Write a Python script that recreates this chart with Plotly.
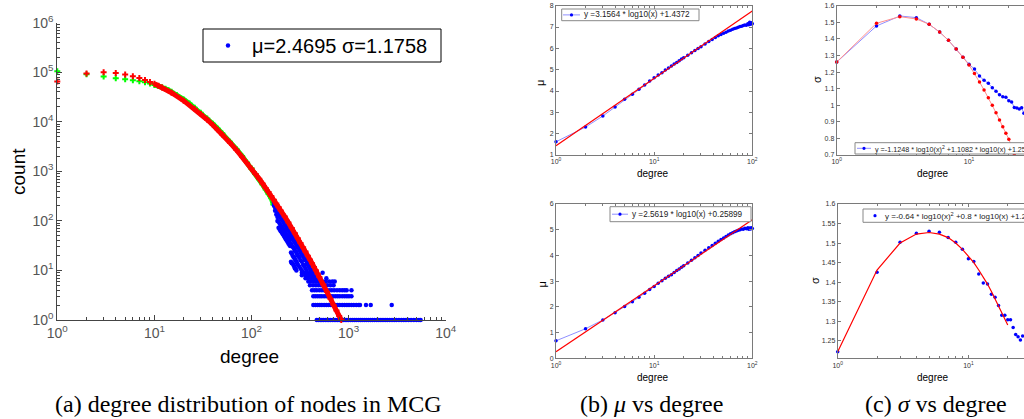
import plotly.graph_objects as go

W, H = 1024, 419


def fx(x):
    return x / W


def fy(y):
    return 1 - y / H


# ---------------- (a) degree distribution of nodes ----------------
fit_mu, fit_sigma = 2.4695, 1.1758

# log-normal fit (red)
fit_deg = [1, 2, 3, 4, 5, 6, 7, 8, 9, 10, 11, 12, 15, 20, 26, 30, 35, 40, 45, 50,
           60, 70, 80, 90, 100, 110, 120, 130, 140, 150, 160, 170, 180, 190, 200,
           220, 240, 260, 280, 300, 320, 340, 360, 380, 400, 420, 440, 460, 480,
           500, 550, 600, 650, 700, 750, 800, 840]
fit_cnt = [65060, 94290, 99740, 96560, 90350, 83350, 76380, 69850, 63870, 58450,
           53570, 49200, 38560, 26710, 18130, 14380, 11010, 8620, 6870, 5560,
           3790, 2690, 1970, 1480, 1134, 887, 705, 568, 463, 381, 317, 266, 224,
           191, 163, 122, 92.6, 71.7, 56.3, 44.8, 36.0, 29.3, 24.1, 19.9, 16.6,
           14.0, 11.8, 10.1, 8.6, 7.4, 5.2, 3.7, 2.7, 2.0, 1.55, 1.2, 1.0]

# observed counts, low-degree part (green)
head_deg = [1, 2, 3, 4, 5, 6, 7, 8, 9, 10, 11, 12, 13, 14, 15, 17, 20, 23, 26, 30,
            35, 40, 45, 50, 60, 70, 80, 90, 100, 110, 120, 130, 140, 150, 160, 168]
head_cnt = [105000, 91000, 82000, 76000, 72000, 69000, 66000, 63000, 59000, 55500,
            52800, 49800, 46500, 43200, 40300, 34800, 28300, 23300, 19200, 15200,
            11650, 9120, 7250, 5870, 3980, 2810, 2040, 1510, 1150, 880, 690, 540,
            430, 350, 285, 215]

# observed counts, high-degree tail (blue): main band
band_deg = [170, 170, 175, 175, 175, 180, 180, 180, 185, 185, 185, 185,
            190, 190, 190, 190, 195, 195, 195, 195, 200, 200, 200, 200,
            205, 205, 205, 205, 210, 210, 210, 210, 215, 215, 215, 215,
            220, 220, 220, 220, 225, 225, 225, 225, 230, 230, 230, 230,
            235, 235, 235, 235, 240, 240, 240, 240, 245, 245, 245, 245,
            250, 250, 250, 250, 255, 255, 255, 255, 255, 260, 260, 260, 260, 260,
            265, 265, 265, 265, 265, 270, 270, 270, 270, 270, 275, 275, 275, 275, 275,
            280, 280, 280, 280, 280, 285, 285, 285, 285, 285, 290, 290, 290, 290, 290,
            295, 295, 295, 295, 300, 300, 300, 300, 310, 310, 310, 310,
            320, 320, 320, 320, 330, 330, 330, 330, 340, 340, 340, 350, 350, 350,
            360, 360, 360, 370, 370, 370, 380, 380, 390, 390, 400, 400, 410, 410,
            420, 440]
band_cnt = [239, 205, 220, 185, 160, 202, 165, 135, 186, 150, 120, 100,
            172, 134, 96, 73, 159, 124, 89, 67, 147, 114, 82, 62,
            137, 106, 76, 58, 127, 99, 71, 54, 118, 92, 66, 50,
            110, 85, 61, 46, 103, 80, 57, 43, 95, 74, 53, 40,
            89, 69, 50, 38, 84, 65, 47, 35, 78, 61, 44, 33,
            73, 57, 41, 31, 68, 49, 34, 23, 15, 65, 47, 32, 22, 14,
            61, 44, 30, 20, 14, 57, 41, 29, 19, 13, 54, 39, 27, 18, 12,
            51, 37, 25, 17, 11, 48, 35, 24, 16, 11, 45, 33, 23, 15, 10,
            43, 31, 21, 14, 40, 29, 20, 13, 36, 26, 18, 12,
            32, 23, 16, 11, 29, 21, 15, 10, 26, 19, 13, 24, 17, 12,
            22, 16, 11, 20, 14, 10, 18, 13, 16, 12, 15, 11, 14, 10,
            13, 11]

# observed counts, high-degree tail (blue): integer-count rows
row9_deg = [330, 350, 370, 400, 430, 470, 540]
row8_deg = [330, 360, 390, 420, 450, 490]
row7_deg = [360, 380, 410, 440, 470, 510, 590]
row6_deg = [385, 410, 440, 470, 500, 540, 580, 630, 680, 720]
row5_deg = [400, 430, 460, 490, 520, 560, 600, 650, 700]
row4_deg = [420, 445, 470, 500, 530, 560, 590, 630, 670, 710, 760, 810, 860,
            910, 955, 1070]
row3_deg = [433, 455, 480, 505, 530, 560, 590, 620, 655, 690, 730, 770, 810,
            860, 910, 960, 1010, 1070]
row2_deg = [433, 455, 480, 505, 530, 560, 590, 620, 655, 690, 730, 770, 810,
            860, 910, 960, 1010, 1070, 1130, 1200, 1270, 1310, 1510, 1690, 2780]
row1_deg = [470, 490, 510, 530, 550, 575, 600, 625, 650, 680, 710, 740, 770, 800,
            840, 880, 920, 960, 1000, 1050, 1100, 1150, 1200, 1260, 1320, 1380,
            1450, 1520, 1600, 1680, 1760, 1850, 1950, 2050, 2150, 2260, 2380,
            2500, 2650, 2800, 2950, 3100, 3300, 3500, 3700, 3900, 4150, 4400,
            4700, 5000, 5300, 5520]

tail_deg = list(band_deg)
tail_cnt = list(band_cnt)
for c, row in [(9, row9_deg), (8, row8_deg), (7, row7_deg), (6, row6_deg),
               (5, row5_deg), (4, row4_deg), (3, row3_deg), (2, row2_deg),
               (1, row1_deg)]:
    tail_deg += row
    tail_cnt += [c] * len(row)

# ---------------- (b) mu vs degree ----------------
mu_deg = list(range(1, 21)) + [22, 24, 26, 28, 30, 33, 36, 39, 42, 45, 48, 51, 54,
                               57, 60, 63, 66, 69, 72, 75, 78, 81, 84, 87, 90, 92,
                               94, 96, 98, 100]
mu_top = [1.62, 2.31, 2.83, 3.25, 3.61, 3.85, 4.08, 4.28, 4.47, 4.62, 4.75, 4.86,
          4.98, 5.08, 5.17, 5.27, 5.34, 5.42, 5.50, 5.56,
          5.68, 5.79, 5.90, 5.99, 6.08, 6.21, 6.32, 6.42, 6.51, 6.59, 6.65, 6.71,
          6.76, 6.81, 6.85, 6.89, 6.93, 6.96, 6.99, 7.02, 7.04, 7.07, 7.10, 7.08,
          7.15, 7.11, 7.22, 7.13, 7.20, 7.15]
mu_bottom = [0.68, 1.15, 1.49, 1.77, 2.01, 2.20, 2.37, 2.53, 2.68, 2.79, 2.92, 3.02,
             3.11, 3.19, 3.25, 3.34, 3.41, 3.47, 3.54, 3.60,
             3.71, 3.81, 3.91, 4.00, 4.09, 4.20, 4.30, 4.39, 4.47, 4.55, 4.62, 4.68,
             4.74, 4.79, 4.84, 4.88, 4.92, 4.95, 4.98, 5.00, 5.03, 5.02, 5.06, 5.04,
             5.08, 5.02, 5.07, 5.03, 5.08, 5.05]
mu_fit_top = [3.1564, 1.4372]        # slope, intercept in log10(x)
mu_fit_bottom = [2.5619, 0.25899]
fit_x_ends = [1, 100]
fit_log_ends = [0, 2]                # log10 of fit_x_ends

# ---------------- (c) sigma vs degree ----------------
sig_deg_top = list(range(1, 27))
sig_top = [1.26, 1.478, 1.538, 1.528, 1.488, 1.441, 1.391, 1.339, 1.289, 1.247,
           1.218, 1.176, 1.150, 1.132, 1.106, 1.084, 1.063, 1.051, 1.048, 1.027,
           1.019, 0.987, 0.983, 0.977, 0.985, 0.951]
sig_fit_deg_top = list(range(1, 23))
sig_fit_top = [1.26, 1.494, 1.534, 1.520, 1.488, 1.441, 1.391, 1.339, 1.289, 1.243,
               1.192, 1.140, 1.092, 1.045, 1.000, 0.955, 0.911, 0.871, 0.831, 0.795,
               0.750, 0.706]
sig_deg_bottom = list(range(1, 28))
sig_bottom = [1.222, 1.425, 1.502, 1.525, 1.530, 1.528, 1.514, 1.502, 1.484, 1.460,
              1.453, 1.421, 1.398, 1.395, 1.369, 1.361, 1.340, 1.315, 1.315, 1.304,
              1.304, 1.284, 1.266, 1.260, 1.252, 1.262, 1.241]
sig_fit_deg_bottom = list(range(1, 21))
sig_fit_bottom = [1.222, 1.431, 1.500, 1.523, 1.527, 1.523, 1.514, 1.500, 1.484,
                  1.467, 1.450, 1.431, 1.414, 1.395, 1.376, 1.357, 1.339, 1.320,
                  1.307, 1.290]
sig_fit_text_top = "y =-1.1248 * log10(x)<sup>2</sup> +1.1082 * log10(x) +1.2558"
sig_fit_text_bottom = "y =-0.64 * log10(x)<sup>2</sup> +0.8 * log10(x) +1.22"

# ---------------- figure ----------------
BLUE = "#0000ff"
RED = "#ff0000"
GREEN = "#00ff00"
LIGHT_BLUE = "#8f8fff"
LIGHT_RED = "#ff8f8f"
SANS = "Liberation Sans, Arial, sans-serif"
SERIF = "Liberation Serif, Times New Roman, serif"

fig = go.Figure()

# (a)
fig.add_trace(go.Scatter(x=head_deg, y=head_cnt, mode="markers",
                         marker=dict(symbol="cross", size=5, color=GREEN),
                         xaxis="x", yaxis="y", cliponaxis=False))
fig.add_trace(go.Scatter(x=[d for d in head_deg if d >= 10],
                         y=[c for d, c in zip(head_deg, head_cnt) if d >= 10],
                         mode="lines", line=dict(color=GREEN, width=5),
                         xaxis="x", yaxis="y"))
fig.add_trace(go.Scatter(x=tail_deg, y=tail_cnt, mode="markers",
                         marker=dict(symbol="circle", size=4.5, color=BLUE),
                         xaxis="x", yaxis="y", cliponaxis=False))
fig.add_trace(go.Scatter(x=fit_deg, y=fit_cnt, mode="markers",
                         marker=dict(symbol="cross", size=5, color=RED),
                         xaxis="x", yaxis="y", cliponaxis=False))
fig.add_trace(go.Scatter(x=[d for d in fit_deg if d >= 10],
                         y=[c for d, c in zip(fit_deg, fit_cnt) if d >= 10],
                         mode="lines", line=dict(color=RED, width=5),
                         xaxis="x", yaxis="y"))

# (b) top and bottom
for xa, ya, vals, coef in [("x2", "y2", mu_top, mu_fit_top),
                           ("x3", "y3", mu_bottom, mu_fit_bottom)]:
    fig.add_trace(go.Scatter(x=mu_deg, y=vals, mode="lines+markers",
                             line=dict(color=LIGHT_BLUE, width=1),
                             marker=dict(size=3.5, color=BLUE),
                             xaxis=xa, yaxis=ya, cliponaxis=False))
    fig.add_trace(go.Scatter(x=fit_x_ends,
                             y=[coef[0] * lx + coef[1] for lx in fit_log_ends],
                             mode="lines", line=dict(color=RED, width=1.2),
                             xaxis=xa, yaxis=ya, cliponaxis=False))

# (c) top
fig.add_trace(go.Scatter(x=sig_deg_top, y=sig_top, mode="lines+markers",
                         line=dict(color=LIGHT_BLUE, width=1),
                         marker=dict(size=3.5, color=BLUE),
                         xaxis="x4", yaxis="y4", cliponaxis=False))
fig.add_trace(go.Scatter(x=sig_fit_deg_top, y=sig_fit_top, mode="lines+markers",
                         line=dict(color=LIGHT_RED, width=1),
                         marker=dict(size=3.5, color=RED),
                         xaxis="x4", yaxis="y4", cliponaxis=False))
# (c) bottom
fig.add_trace(go.Scatter(x=sig_deg_bottom, y=sig_bottom, mode="markers",
                         marker=dict(size=3.5, color=BLUE),
                         xaxis="x5", yaxis="y5", cliponaxis=False))
fig.add_trace(go.Scatter(x=sig_fit_deg_bottom, y=sig_fit_bottom, mode="lines",
                         line=dict(color=RED, width=1.2),
                         xaxis="x5", yaxis="y5", cliponaxis=False))


def pow10_labels(n):
    return [10 ** k for k in range(n + 1)], ["10<sup>%d</sup>" % k for k in range(n + 1)]


def minor_log(n):
    return [m * 10 ** k for k in range(n) for m in range(2, 10)]


def log_axis(dom, n, anchor, size, col, tl, ml, rng=None, mirror=False, lw=1):
    vals, text = pow10_labels(n)
    return dict(domain=dom, type="log", range=rng if rng else [0, n], anchor=anchor,
                tickmode="array", tickvals=vals, ticktext=text,
                ticks="inside", ticklen=tl, tickwidth=1, tickcolor=col,
                showline=True, linecolor=col, linewidth=lw, mirror=mirror,
                showgrid=False, zeroline=False,
                tickfont=dict(family=SANS, size=size, color="#555" if size > 10 else "#333"),
                minor=dict(tickmode="array", tickvals=minor_log(n), ticks="inside",
                           ticklen=ml, tickcolor=col, showgrid=False))


def lin_axis(dom, rng, vals, text, anchor, col, mirror):
    return dict(domain=dom, range=rng, anchor=anchor, tickmode="array",
                tickvals=vals, ticktext=text, ticks="inside", ticklen=3,
                tickwidth=1, tickcolor=col, showline=True, linecolor=col,
                linewidth=1, mirror=mirror, showgrid=False, zeroline=False,
                tickfont=dict(family=SANS, size=7, color="#333"))


AX_A = "#444"
AX_S = "#7a7a7a"
top_dom = [fy(155), fy(5.7)]
bot_dom = [fy(358.3), fy(204)]

layout = dict(
    width=W, height=H, margin=dict(l=0, r=0, t=0, b=0, autoexpand=False),
    paper_bgcolor="white", plot_bgcolor="white", showlegend=False,
    font=dict(family=SANS),
    xaxis=log_axis([fx(57.3), fx(445.7)], 4, "y", 14, AX_A, 5, 3),
    yaxis=log_axis([fy(320), fy(22.7)], 6, "x", 14, AX_A, 5, 3),
    xaxis2=log_axis([fx(556), fx(752.3)], 2, "y2", 7, AX_S, 3, 2, mirror="ticks"),
    yaxis2=lin_axis(top_dom, [1, 8], list(range(1, 9)), [str(v) for v in range(1, 9)],
                    "x2", AX_S, "ticks"),
    xaxis3=log_axis([fx(556), fx(752.3)], 2, "y3", 7, AX_S, 3, 2, mirror="ticks"),
    yaxis3=lin_axis(bot_dom, [0, 6], list(range(0, 7)), [str(v) for v in range(0, 7)],
                    "x3", AX_S, "ticks"),
    xaxis4=log_axis([fx(836.7), 1], 2, "y4", 7, AX_S, 3, 2,
                    rng=[0, (1024 - 836.7) / 132.3], mirror="ticks"),
    yaxis4=lin_axis(top_dom, [0.7, 1.6],
                    [0.7, 0.8, 0.9, 1.0, 1.1, 1.2, 1.3, 1.4, 1.5, 1.6],
                    ["0.7", "0.8", "0.9", "1", "1.1", "1.2", "1.3", "1.4", "1.5", "1.6"],
                    "x4", AX_S, False),
    xaxis5=log_axis([fx(837.7), 1], 2, "y5", 7, AX_S, 3, 2,
                    rng=[0, (1024 - 837.7) / 130.7], mirror="ticks"),
    yaxis5=lin_axis(bot_dom, [1.205, 1.6],
                    [1.25, 1.3, 1.35, 1.4, 1.45, 1.5, 1.55, 1.6],
                    ["1.25", "1.3", "1.35", "1.4", "1.45", "1.5", "1.55", "1.6"],
                    "x5", AX_S, False),
)
fig.update_layout(**layout)

shapes = []
annotations = []


def note(x, y, text, size, family=SANS, color="black", angle=0, xanchor="center"):
    annotations.append(dict(x=fx(x), y=fy(y), xref="paper", yref="paper", text=text,
                            showarrow=False, textangle=angle, xanchor=xanchor,
                            yanchor="middle",
                            font=dict(family=family, size=size, color=color)))


def box(x0, y0, x1, y1, color, width=1):
    shapes.append(dict(type="rect", xref="paper", yref="paper", x0=fx(x0), x1=fx(x1),
                       y0=fy(y1), y1=fy(y0), line=dict(color=color, width=width),
                       fillcolor="white", layer="above"))


def sample(x0, x1, y, line_color, dot_color, r, with_line=True):
    if with_line:
        shapes.append(dict(type="line", xref="paper", yref="paper", x0=fx(x0), x1=fx(x1),
                           y0=fy(y), y1=fy(y), line=dict(color=line_color, width=1)))
    xm = (x0 + x1) / 2
    shapes.append(dict(type="circle", xref="paper", yref="paper",
                       x0=fx(xm - r), x1=fx(xm + r), y0=fy(y + r), y1=fy(y - r),
                       line=dict(width=0), fillcolor=dot_color))


# (a) labels and legend
note(18, 172, "count", 19, angle=-90)
note(249, 356, "degree", 19)
box(203, 29, 441, 62, "black", 1)
sample(222, 234, 45.5, BLUE, BLUE, 2.2, with_line=False)
note(250, 46, "μ=%.4f σ=%.4f" % (fit_mu, fit_sigma), 20, xanchor="left")

# (b) labels and legends
note(540, 83, "μ", 11, angle=-90)
note(653, 174, "degree", 10)
note(541.5, 285, "μ", 11, angle=-90)
note(653, 377, "degree", 10)
box(561.7, 9, 699, 20.7, "#888")
sample(563, 580, 14.9, LIGHT_BLUE, BLUE, 1.6)
note(582, 15, "y =%.4f * log10(x) +%.4f" % tuple(mu_fit_top), 8.2, color="#222",
     xanchor="left")
box(610, 206.7, 751, 221.7, "#888")
sample(612, 628, 214.2, LIGHT_BLUE, BLUE, 1.6)
note(629.5, 214.3, "y =%.4f * log10(x) +%.5f" % tuple(mu_fit_bottom), 8.2,
     color="#222", xanchor="left")

# (c) labels and legends
note(817, 80, "σ", 11, angle=-90)
note(933, 174, "degree", 10)
note(815, 281, "σ", 11, angle=-90)
note(933, 377, "degree", 10)
box(855, 142.7, 1040, 154, "#888")
sample(857, 871, 148.3, LIGHT_BLUE, BLUE, 1.6)
note(873, 148.5, sig_fit_text_top, 7.2, color="#222", xanchor="left")
box(863, 209, 1040, 222.3, "#888")
sample(869, 881, 215.7, BLUE, BLUE, 1.6, with_line=False)
note(883, 215.8, sig_fit_text_bottom, 8, color="#222", xanchor="left")

# captions
note(53, 404, "(a) degree distribution of nodes in MCG", 24, family=SERIF,
     xanchor="left")
note(651, 404, "(b) <i>μ</i> vs degree", 24, family=SERIF)
note(935.5, 404, "(c) <i>σ</i> vs degree", 24, family=SERIF)

fig.update_layout(shapes=shapes, annotations=annotations)
fig.write_html("out.html")
